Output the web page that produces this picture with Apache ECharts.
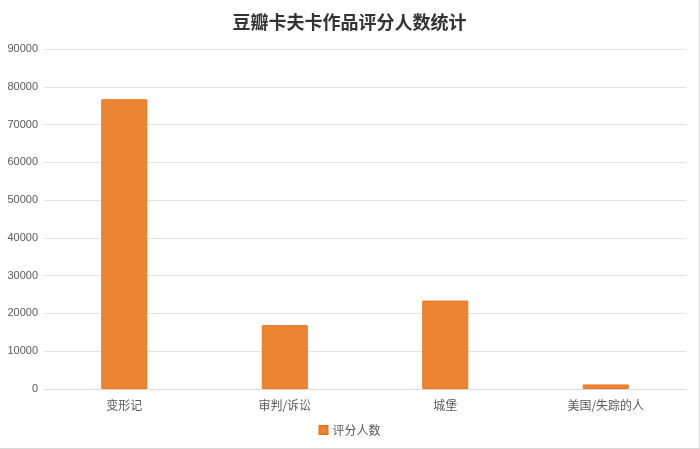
<!DOCTYPE html>
<html><head><meta charset="utf-8">
<script src="https://cdn.jsdelivr.net/npm/echarts@6/dist/echarts.min.js"></script>
<style>html,body{margin:0;padding:0;background:#fff}
#c{width:699px;height:448px;border-right:1px solid #d9d9d9;border-bottom:1px solid #d9d9d9}</style>
</head><body><div id="c"></div>
<script>
const categories = ['变形记', '审判/诉讼', '城堡', '美国/失踪的人'];
const ratingCounts = [76700, 16900, 23400, 1200];
const seriesName = '评分人数';
const chart = echarts.init(document.getElementById('c'));
chart.setOption({
  animation: false,
  title: {text: '豆瓣卡夫卡作品评分人数统计', left: 'center', top: 8,
    textStyle: {fontFamily: 'Noto Sans CJK SC', fontSize: 18, fontWeight: 'bold', color: '#333'}},
  grid: {left: 44, right: 13, top: 49, bottom: 59},
  legend: {bottom: 7, left: 'center', itemWidth: 8, itemHeight: 8, itemGap: 5,
    icon: 'rect', textStyle: {color: '#595959', fontSize: 12, fontFamily: 'Noto Sans CJK SC'}},
  xAxis: {type: 'category', data: categories,
    axisLine: {lineStyle: {color: '#d9d9d9'}}, axisTick: {show: false},
    axisLabel: {color: '#595959', fontSize: 12, margin: 10, fontFamily: 'Noto Sans CJK SC'}},
  yAxis: {type: 'value', min: 0, max: 90000, interval: 10000,
    axisLine: {show: false}, axisTick: {show: false},
    axisLabel: {color: '#595959', fontSize: 11, margin: 6, formatter: v => String(v)},
    splitLine: {lineStyle: {color: '#e3e3e3'}}},
  series: [{name: seriesName, type: 'bar', data: ratingCounts, barWidth: 46,
    itemStyle: {color: '#ED8432', borderColor: '#EC7620', borderWidth: 1}}]
});
</script></body></html>
